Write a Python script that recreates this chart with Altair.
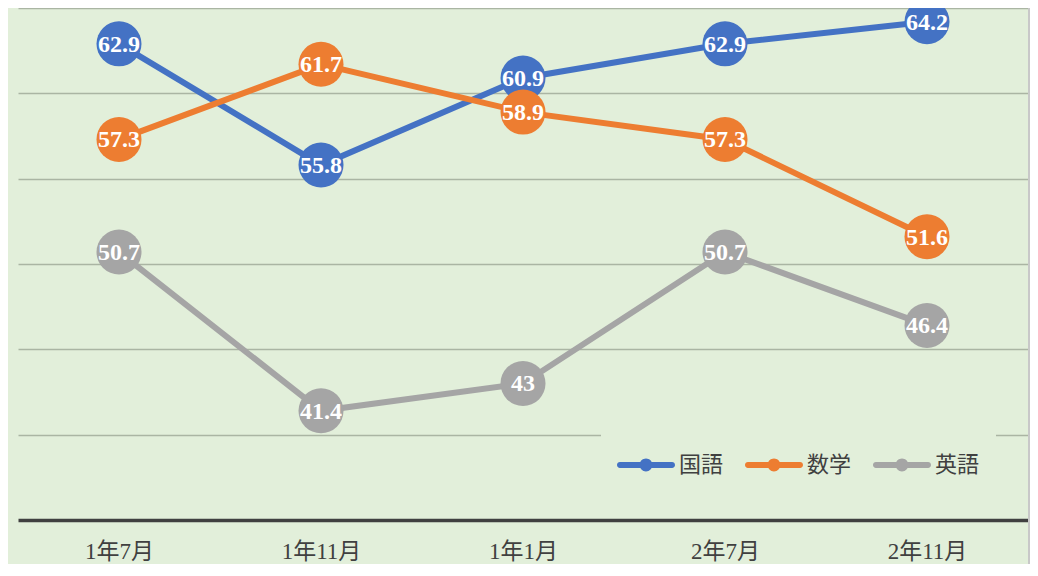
import altair as alt
import pandas as pd

categories = ["1年7月", "1年11月", "1年1月", "2年7月", "2年11月"]
subjects = ["国語", "数学", "英語"]
kokugo = [62.9, 55.8, 60.9, 62.9, 64.2]
sugaku = [57.3, 61.7, 58.9, 57.3, 51.6]
eigo = [50.7, 41.4, 43, 50.7, 46.4]
colors = ["#4472C4", "#ED7D31", "#A5A5A5"]

rows = []
for s, vals in zip(subjects, [kokugo, sugaku, eigo]):
    for c, v in zip(categories, vals):
        rows.append({"month": c, "subject": s, "series": s, "score": v, "label": f"{v:g}"})
df = pd.DataFrame(rows)

W, H = 1010, 512
FONT = "Liberation Serif, Noto Sans CJK JP, serif"
BG = "#E2EFDA"

x = alt.X(
    "month:O",
    sort=categories,
    scale=alt.Scale(type="point", padding=0.5),
    axis=alt.Axis(
        title=None, labelAngle=0, ticks=False, grid=False,
        domainColor="#404040", domainWidth=3.5,
        labelFont=FONT, labelFontSize=23, labelColor="#404040", labelPadding=20,
    ),
)
y = alt.Y(
    "score:Q",
    scale=alt.Scale(domain=[35, 65], nice=False, zero=False),
    axis=alt.Axis(
        title=None, labels=False, ticks=False, domain=False,
        values=[40, 45, 50, 55, 60, 65], gridColor="#aab5a3", gridWidth=1.5,
    ),
)

legend_path = (
    "M-0.9,-0.1L0.9,-0.1A0.1,0.1,0,0,1,0.9,0.1L-0.9,0.1A0.1,0.1,0,0,1,-0.9,-0.1Z"
    "M-0.22,0A0.22,0.22,0,1,1,0.22,0A0.22,0.22,0,1,1,-0.22,0Z"
)

base = alt.Chart(df)
lines = base.mark_line(strokeWidth=6).encode(
    x=x, y=y,
    stroke=alt.Stroke("series:N", sort=subjects, scale=alt.Scale(range=colors), legend=None),
)
points = base.mark_circle(size=2025, opacity=1).encode(
    x=x, y=y,
    color=alt.Color(
        "subject:N",
        scale=alt.Scale(domain=subjects, range=colors),
        legend=alt.Legend(
            title=None, orient="none", legendX=583, legendY=412, direction="horizontal",
            symbolType=legend_path, symbolSize=3364, symbolStrokeWidth=0, symbolOpacity=1,
            labelFont=FONT, labelFontSize=22, labelColor="#404040", labelOffset=4,
            columnPadding=20, padding=16, fillColor=BG,
        ),
    ),
)
texts = base.mark_text(
    color="white", font=FONT, fontSize=24, fontWeight="bold", baseline="middle", dy=1
).encode(x=x, y=y, text="label:N")
border = alt.Chart(pd.DataFrame({"a": [0]})).mark_rule(color="#c8c8c8", strokeWidth=2).encode(
    x=alt.value(1011), y=alt.value(-10), y2=alt.value(H + 60)
)

chart = (
    alt.layer(lines, points, texts, border)
    .properties(
        width=W, height=H,
        padding={"left": 10, "top": 0, "right": 2, "bottom": 44},
        autosize=alt.AutoSizeParams(type="none"),
    )
    .configure(background=BG)
    .configure_view(strokeWidth=0)
)

chart.save("out.html", embed_options={"renderer": "svg", "actions": False})
